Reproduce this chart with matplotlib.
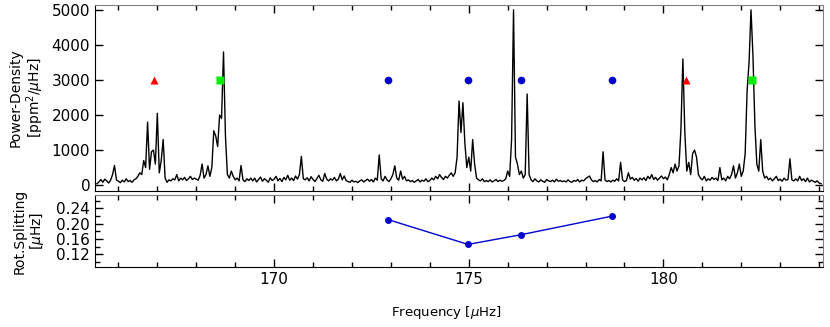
import numpy as np
import matplotlib
matplotlib.use("Agg")
import matplotlib.pyplot as plt
from matplotlib.ticker import MultipleLocator

# power density spectrum on a 0.05 muHz grid from 165.45
power = [
    40, 90, 160, 80, 170, 120, 60, 140, 300, 560, 150, 110, 70, 140, 90, 180, 100, 130, 80, 150,
    180, 250, 350, 300, 700, 500, 1800, 450, 950, 1000, 600, 2050, 350, 700, 1300, 200, 80, 150, 120, 180,
    150, 300, 120, 200, 150, 220, 130, 180, 250, 160, 200, 170, 140, 280, 600, 200, 300, 550, 250, 500,
    1550, 1400, 1100, 2000, 1900, 3800, 1400, 300, 200, 400, 250, 150, 200, 120, 560, 150, 100, 180, 130, 200,
    120, 200, 90, 160, 230, 110, 180, 140, 80, 210, 130, 170, 250, 120, 190, 100, 220, 150, 280, 140,
    200, 130, 260, 170, 300, 820, 180, 150, 210, 120, 240, 160, 100, 190, 280, 150, 110, 330, 170, 120,
    180, 140, 220, 120, 170, 330, 150, 260, 130, 100, 80, 140, 90, 110, 70, 120, 150, 90, 130, 170,
    110, 160, 90, 200, 140, 860, 180, 120, 250, 150, 100, 180, 300, 550, 200, 140, 400, 170, 250, 120,
    150, 100, 130, 80, 120, 160, 90, 140, 110, 180, 100, 130, 200, 150, 250, 180, 300, 220, 160, 250,
    200, 280, 350, 250, 350, 800, 2400, 1500, 2350, 1200, 500, 800, 400, 1300, 600, 200, 150, 120, 180, 100,
    130, 100, 150, 90, 120, 160, 100, 140, 110, 130, 180, 400, 250, 1300, 5000, 800, 600, 300, 400, 200,
    300, 2600, 300, 150, 100, 180, 120, 90, 150, 110, 80, 160, 120, 100, 140, 90, 170, 110, 130, 100,
    120, 90, 150, 100, 80, 130, 110, 160, 90, 140, 120, 180, 220, 260, 150, 100, 130, 90, 160, 120,
    950, 150, 100, 130, 90, 140, 110, 180, 120, 650, 150, 100, 130, 350, 170, 220, 140, 190, 110, 200,
    150, 210, 130, 250, 180, 300, 160, 220, 140, 200, 260, 180, 230, 150, 300, 500, 350, 600, 400, 550,
    1600, 3600, 1500, 400, 650, 300, 900, 1000, 800, 300, 200, 150, 250, 120, 180, 140, 220, 160, 200, 130,
    500, 150, 200, 120, 250, 180, 300, 550, 200, 350, 600, 250, 400, 900, 2700, 3500, 5000, 3700, 1700, 600,
    400, 1300, 400, 200, 250, 150, 200, 120, 180, 250, 130, 170, 110, 200, 140, 160, 750, 150, 120, 180,
    120, 250, 130, 180, 100, 200, 90, 140, 110, 80, 120, 60, 40,
]
freq = np.round(165.45 + 0.05 * np.arange(len(power)), 2)

# mode markers (l=0 red, l=2 green, l=1 blue)
l0_freq = [166.92, 180.58]
l2_freq = [168.60, 182.27]
l1_freq = [172.92, 174.98, 176.33, 178.69]
marker_level = 3000

# rotational splitting of the l=1 modes
split_freq = [172.92, 174.98, 176.33, 178.69]
split_val = [0.211, 0.146, 0.171, 0.220]

plt.rcParams['font.family'] = ['DejaVu Sans']
plt.rcParams['font.size'] = 10

fig = plt.figure(figsize=(8.30, 3.27), dpi=100)
ax1 = fig.add_axes([0.1145, 0.4168, 0.8771, 0.568])
ax2 = fig.add_axes([0.1145, 0.1835, 0.8771, 0.2202])

ax1.plot(freq, power, color='black', lw=1.0)
ax1.plot(l0_freq, [marker_level] * len(l0_freq), '^', color='#ff0000', ms=5.5, mec='none')
ax1.plot(l2_freq, [marker_level] * len(l2_freq), 's', color='#00ee00', ms=5.5, mec='none')
ax1.plot(l1_freq, [marker_level] * len(l1_freq), 'o', color='#0000cc', ms=5.5, mec='none')
ax1.set_ylim(-160, 5140)
ax1.set_yticks([0, 1000, 2000, 3000, 4000, 5000])
ax1.set_ylabel('Power-Density\n[ppm$^2$/$\\mu$Hz]', linespacing=1.1)
ax1.tick_params(labelbottom=False)

ax2.plot(split_freq, split_val, '-', color='#0000cc', lw=1.0)
ax2.plot(split_freq, split_val, 'o', color='#0000cc', ms=5, mec='none')
ax2.set_ylim(0.087, 0.275)
ax2.set_yticks([0.12, 0.16, 0.20, 0.24])
ax2.yaxis.set_minor_locator(MultipleLocator(0.02))
ax2.set_ylabel('Rot.Splitting\n[$\\mu$Hz]', linespacing=1.1)
ax2.set_xlabel('Frequency [$\\mu$Hz]', fontsize=9.5)

for ax in (ax1, ax2):
    ax.set_xlim(165.4, 184.1)
    ax.xaxis.set_major_locator(MultipleLocator(5))
    ax.xaxis.set_minor_locator(MultipleLocator(1))
    ax.tick_params(which='both', direction='in', top=True, right=True, width=1,
                   labelsize=11)
    ax.tick_params(which='major', length=6)
    ax.tick_params(which='minor', length=3.5)
    ax.spines['top'].set_color('0.5')
    ax.spines['right'].set_color('0.5')

ax1.yaxis.set_label_coords(-0.068, 0.5)
ax2.yaxis.set_label_coords(-0.068, 0.5)
ax2.xaxis.set_label_coords(0.482, -0.51)

fig.savefig('out.png', dpi=100)
